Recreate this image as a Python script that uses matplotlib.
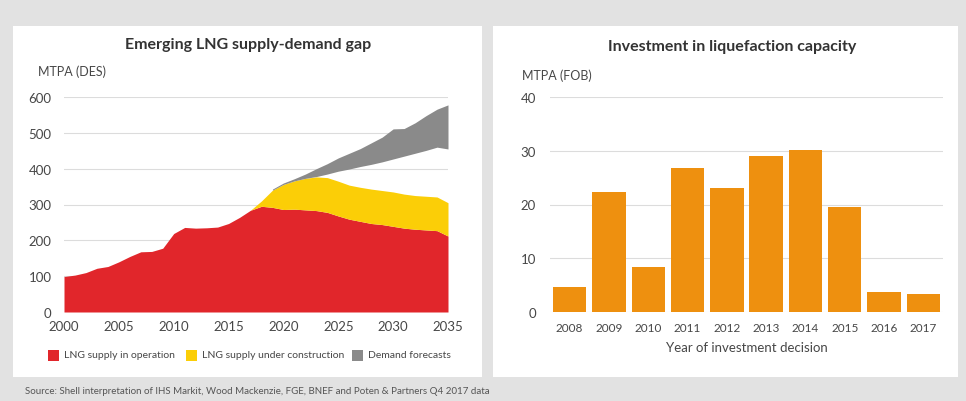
import matplotlib
matplotlib.use("Agg")
import matplotlib.pyplot as plt
from matplotlib.patches import Rectangle
import numpy as np

plt.rcParams['font.family'] = ['Lato', 'DejaVu Sans']

# left chart: LNG supply vs demand, MTPA (DES)
years = list(range(2000, 2036))
in_operation = [99, 103, 110, 122, 127, 140, 155, 168, 169, 178,
                219, 236, 234, 235, 237, 247, 264, 284, 295, 292,
                286, 287, 285, 283, 278, 268, 259, 253, 247, 244,
                239, 234, 231, 229, 227, 212]
# under construction, starts 2017
uc_years = list(range(2017, 2036))
under_construction = [0, 15, 48, 70, 79, 88, 94, 97, 97, 95,
                      95, 96, 95, 96, 95, 94, 94, 94, 93]
# demand forecast band, starts 2019
dem_years = list(range(2019, 2036))
demand_low = [340, 356, 366, 373, 378, 385, 393, 399, 406, 412,
              419, 427, 435, 443, 451, 460, 455]
demand_high = [343, 360, 372, 385, 400, 414, 430, 443, 456, 472,
               488, 511, 512, 528, 548, 566, 578]

# right chart: investment in liquefaction capacity, MTPA (FOB)
fid_years = ['2008', '2009', '2010', '2011', '2012', '2013', '2014', '2015', '2016', '2017']
fid_capacity = [4.6, 22.4, 8.4, 26.7, 23.0, 29.1, 30.2, 19.6, 3.7, 3.3]

RED = '#e1262b'
YELLOW = '#fbce07'
GREY = '#8a8a8a'
ORANGE = '#ee900f'
TXT = '#474747'
GRID = '#dcdcdc'

W, H = 966, 402
fig = plt.figure(figsize=(W / 100, H / 100), dpi=100)
fig.patch.set_facecolor('#e2e2e2')

def px(x0, y0, x1, y1):
    # pixel box -> figure fraction rect
    return [x0 / W, 1 - y1 / H, (x1 - x0) / W, (y1 - y0) / H]

# white panels
for (a, b) in [(13, 482), (493, 958)]:
    fig.patches.append(Rectangle((a / W, 1 - 378 / H), (b - a) / W, (378 - 27) / H,
                                 transform=fig.transFigure, facecolor='white',
                                 edgecolor='none', zorder=-5))

# ---- left chart
ax1 = fig.add_axes(px(64, 98, 448, 313))
ax1.set_facecolor('none')
op = np.array(in_operation)
uc_top = np.array(in_operation[17:]) + np.array(under_construction)
ax1.fill_between(years, 0, op, color=RED, linewidth=0, zorder=3)
ax1.fill_between(uc_years, in_operation[17:], uc_top, color=YELLOW, linewidth=0, zorder=3)
ax1.fill_between(dem_years, demand_low, demand_high, color=GREY, linewidth=0, zorder=3)
ax1.set_xlim(2000, 2035)
ax1.set_ylim(0, 600)
ax1.set_yticks(range(0, 601, 100))
ax1.set_xticks(range(2000, 2036, 5))
ax1.grid(axis='y', color=GRID, linewidth=0.8, zorder=1)
ax1.tick_params(length=0, labelsize=9.5, colors=TXT)
ax1.tick_params(axis='y', pad=9)
ax1.tick_params(axis='x', pad=6)
for s in ax1.spines.values():
    s.set_visible(False)

fig.text(248 / W, 1 - 45 / H, 'Emerging LNG supply-demand gap', ha='center', va='center',
         fontsize=11.5, fontweight='bold', color='#333333')
fig.text(38 / W, 1 - 72 / H, 'MTPA (DES)', ha='left', va='center', fontsize=9, color=TXT)

# legend
leg = [(48, RED, 'LNG supply in operation'),
       (186, YELLOW, 'LNG supply under construction'),
       (352, GREY, 'Demand forecasts')]
for x0, c, lab in leg:
    fig.patches.append(Rectangle((x0 / W, 1 - 362 / H), 11 / W, 11 / H,
                                 transform=fig.transFigure, facecolor=c, edgecolor='none'))
    fig.text((x0 + 16) / W, 1 - 356 / H, lab, ha='left', va='center', fontsize=7.5, color=TXT)

# ---- right chart
ax2 = fig.add_axes(px(550, 98, 943, 313))
ax2.set_facecolor('none')
ax2.bar(range(len(fid_years)), fid_capacity, width=0.85, color=ORANGE, zorder=3)
ax2.set_xlim(-0.5, 9.5)
ax2.set_ylim(0, 40)
ax2.set_yticks(range(0, 41, 10))
ax2.set_xticks(range(len(fid_years)))
ax2.set_xticklabels(fid_years)
ax2.grid(axis='y', color=GRID, linewidth=0.8, zorder=1)
ax2.tick_params(length=0, colors=TXT)
ax2.tick_params(axis='y', pad=10, labelsize=9.5)
ax2.tick_params(axis='x', pad=7, labelsize=8.5)
for s in ax2.spines.values():
    s.set_visible(False)
ax2.set_xlabel('Year of investment decision', fontsize=9.5, color=TXT, labelpad=6)

fig.text(732 / W, 1 - 47 / H, 'Investment in liquefaction capacity', ha='center', va='center',
         fontsize=11.5, fontweight='bold', color='#333333')
fig.text(522 / W, 1 - 76 / H, 'MTPA (FOB)', ha='left', va='center', fontsize=9, color=TXT)

fig.text(25 / W, 1 - 392 / H,
         'Source: Shell interpretation of IHS Markit, Wood Mackenzie, FGE, BNEF and Poten & Partners Q4 2017 data',
         ha='left', va='center', fontsize=7, color='#555555')

fig.savefig('out.png', dpi=100, facecolor=fig.get_facecolor())
